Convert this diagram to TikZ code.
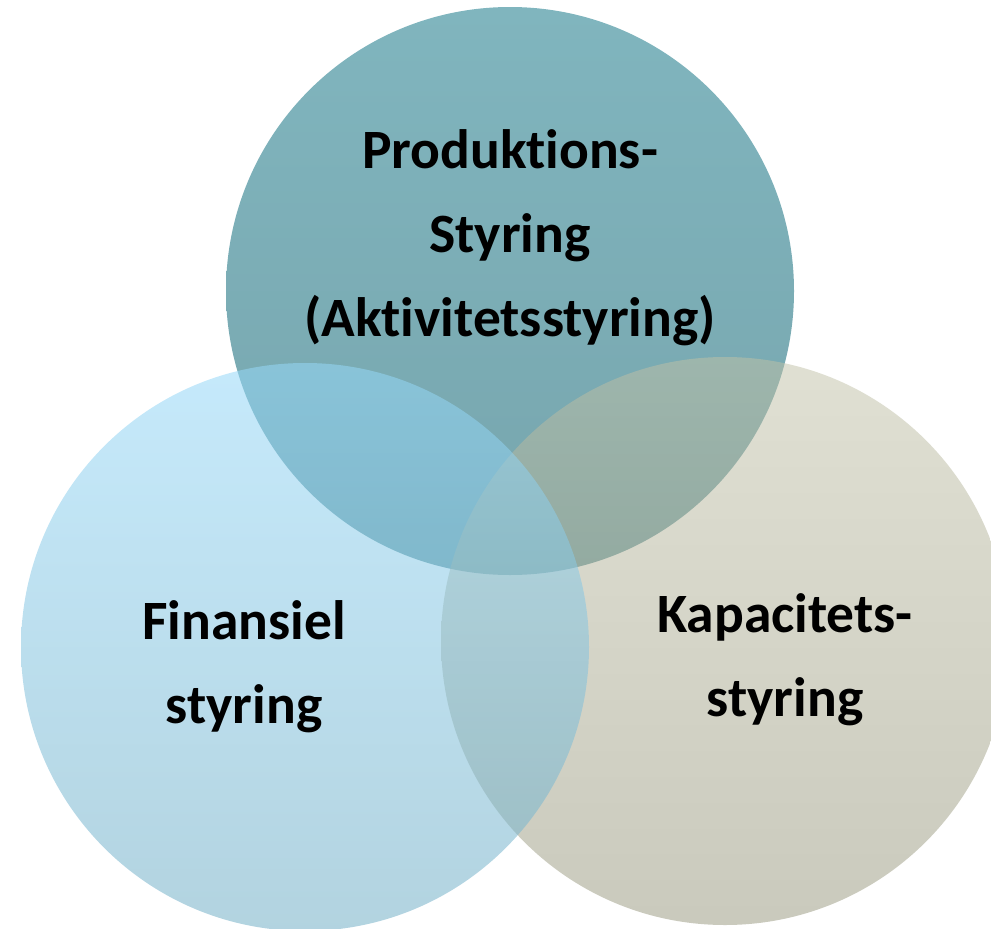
\documentclass[tikz,border=0pt]{standalone}
\usepackage{fontspec}
\setmainfont[Ligatures=NoCommon]{Carlito}
\definecolor{topA}{RGB}{128,181,190}
\definecolor{topB}{RGB}{119,165,173}
\definecolor{leftA}{RGB}{150,216,248}
\definecolor{leftB}{RGB}{115,175,198}
\definecolor{rightA}{RGB}{193,193,167}
\definecolor{rightB}{RGB}{149,149,123}
\tikzset{
  label/.style={align=center, text=black, font=\bfseries\fontsize{55.5}{84}\selectfont, inner sep=0pt},
  veilR/.style={fill opacity=0.5},
  veilL/.style={fill opacity=0.55}
}
\begin{document}
\begin{tikzpicture}[x=1pt,y=-1pt]
\useasboundingbox (0,0) rectangle (991,929);
\coordinate (ct) at (510,291);
\coordinate (cl) at (305,647);
\coordinate (cr) at (725,641);
\shade[top color=topA, bottom color=topB] (ct) circle (284);
\shade[top color=rightA, bottom color=rightB, veilR] (cr) circle (284);
\shade[top color=leftA, bottom color=leftB, veilL] (cl) circle (284);
\node[label] (lt) at (510,238) {Produktions-\\Styring\\(Aktivitetsstyring)};
\node[label] (ll) at (244,667) {Finansiel\\styring};
\node[label] (lr) at (785,660) {Kapacitets-\\styring};
\end{tikzpicture}
\end{document}
